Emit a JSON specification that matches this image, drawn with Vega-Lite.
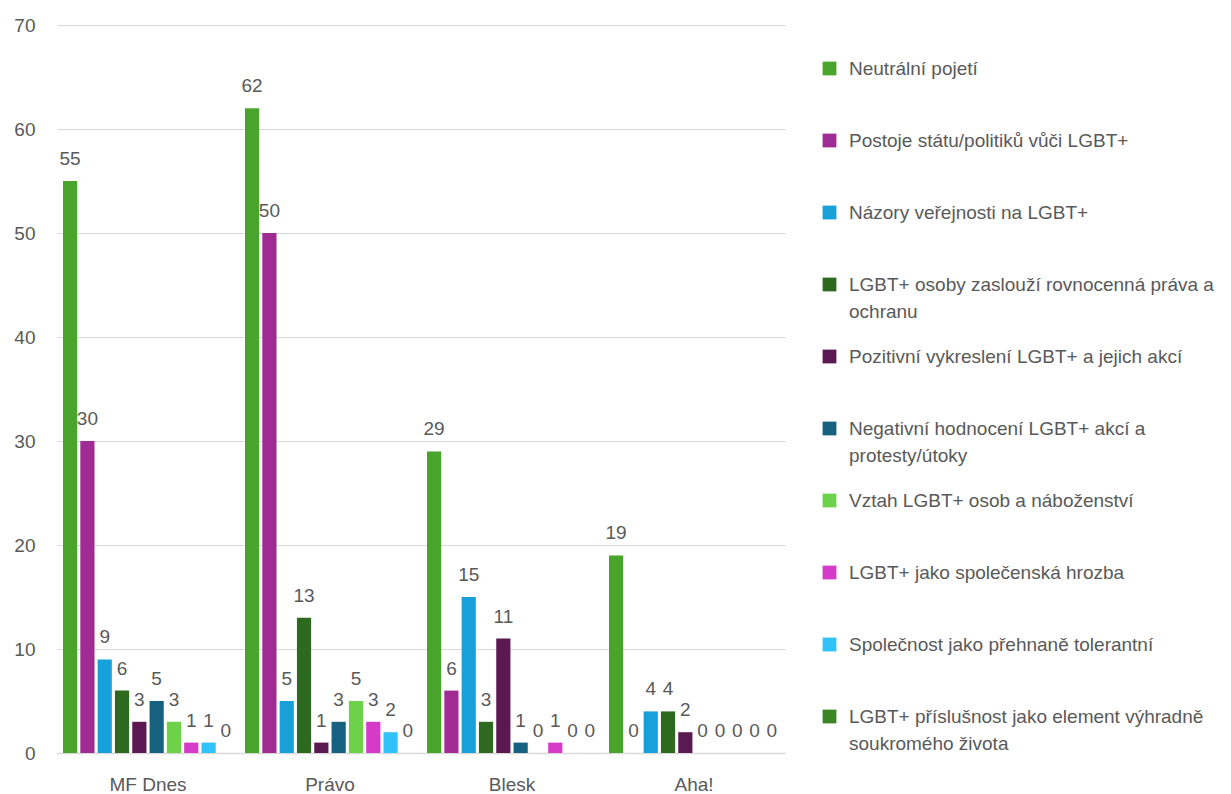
{
  "$schema": "https://vega.github.io/schema/vega-lite/v6.json",
  "width": 728,
  "height": 728,
  "autosize": {"type": "none"},
  "padding": {"left": 57, "top": 25, "right": 446, "bottom": 41},
  "background": "white",
  "config": {
    "view": {"stroke": null},
    "font": "Liberation Sans",
    "axis": {"labelColor": "#595959", "labelFontSize": 19, "titleColor": "#595959"},
    "legend": {"labelColor": "#595959"}
  },
  "data": {
    "values": [
      {"paper": "MF Dnes", "series": "Neutrální pojetí", "value": 55},
      {"paper": "MF Dnes", "series": "Postoje státu/politiků vůči LGBT+", "value": 30},
      {"paper": "MF Dnes", "series": "Názory veřejnosti na LGBT+", "value": 9},
      {"paper": "MF Dnes", "series": "LGBT+ osoby zaslouží rovnocenná práva a ochranu", "value": 6},
      {"paper": "MF Dnes", "series": "Pozitivní vykreslení LGBT+ a jejich akcí", "value": 3},
      {"paper": "MF Dnes", "series": "Negativní hodnocení LGBT+ akcí a protesty/útoky", "value": 5},
      {"paper": "MF Dnes", "series": "Vztah LGBT+ osob a náboženství", "value": 3},
      {"paper": "MF Dnes", "series": "LGBT+ jako společenská hrozba", "value": 1},
      {"paper": "MF Dnes", "series": "Společnost jako přehnaně tolerantní", "value": 1},
      {"paper": "MF Dnes", "series": "LGBT+ příslušnost jako element výhradně soukromého života", "value": 0},
      {"paper": "Právo", "series": "Neutrální pojetí", "value": 62},
      {"paper": "Právo", "series": "Postoje státu/politiků vůči LGBT+", "value": 50},
      {"paper": "Právo", "series": "Názory veřejnosti na LGBT+", "value": 5},
      {"paper": "Právo", "series": "LGBT+ osoby zaslouží rovnocenná práva a ochranu", "value": 13},
      {"paper": "Právo", "series": "Pozitivní vykreslení LGBT+ a jejich akcí", "value": 1},
      {"paper": "Právo", "series": "Negativní hodnocení LGBT+ akcí a protesty/útoky", "value": 3},
      {"paper": "Právo", "series": "Vztah LGBT+ osob a náboženství", "value": 5},
      {"paper": "Právo", "series": "LGBT+ jako společenská hrozba", "value": 3},
      {"paper": "Právo", "series": "Společnost jako přehnaně tolerantní", "value": 2},
      {"paper": "Právo", "series": "LGBT+ příslušnost jako element výhradně soukromého života", "value": 0},
      {"paper": "Blesk", "series": "Neutrální pojetí", "value": 29},
      {"paper": "Blesk", "series": "Postoje státu/politiků vůči LGBT+", "value": 6},
      {"paper": "Blesk", "series": "Názory veřejnosti na LGBT+", "value": 15},
      {"paper": "Blesk", "series": "LGBT+ osoby zaslouží rovnocenná práva a ochranu", "value": 3},
      {"paper": "Blesk", "series": "Pozitivní vykreslení LGBT+ a jejich akcí", "value": 11},
      {"paper": "Blesk", "series": "Negativní hodnocení LGBT+ akcí a protesty/útoky", "value": 1},
      {"paper": "Blesk", "series": "Vztah LGBT+ osob a náboženství", "value": 0},
      {"paper": "Blesk", "series": "LGBT+ jako společenská hrozba", "value": 1},
      {"paper": "Blesk", "series": "Společnost jako přehnaně tolerantní", "value": 0},
      {"paper": "Blesk", "series": "LGBT+ příslušnost jako element výhradně soukromého života", "value": 0},
      {"paper": "Aha!", "series": "Neutrální pojetí", "value": 19},
      {"paper": "Aha!", "series": "Postoje státu/politiků vůči LGBT+", "value": 0},
      {"paper": "Aha!", "series": "Názory veřejnosti na LGBT+", "value": 4},
      {"paper": "Aha!", "series": "LGBT+ osoby zaslouží rovnocenná práva a ochranu", "value": 4},
      {"paper": "Aha!", "series": "Pozitivní vykreslení LGBT+ a jejich akcí", "value": 2},
      {"paper": "Aha!", "series": "Negativní hodnocení LGBT+ akcí a protesty/útoky", "value": 0},
      {"paper": "Aha!", "series": "Vztah LGBT+ osob a náboženství", "value": 0},
      {"paper": "Aha!", "series": "LGBT+ jako společenská hrozba", "value": 0},
      {"paper": "Aha!", "series": "Společnost jako přehnaně tolerantní", "value": 0},
      {"paper": "Aha!", "series": "LGBT+ příslušnost jako element výhradně soukromého života", "value": 0}
    ]
  },
  "encoding": {
    "x": {
      "field": "paper", "type": "nominal", "sort": null,
      "scale": {"paddingInner": 0.066, "paddingOuter": 0.033},
      "axis": {"title": null, "labelAngle": 0, "ticks": false, "domainColor": "#d9d9d9", "domainWidth": 1.5, "labelPadding": 22, "grid": false}
    },
    "xOffset": {
      "field": "series", "type": "nominal",
      "scale": {
        "domain": ["Neutrální pojetí", "Postoje státu/politiků vůči LGBT+", "Názory veřejnosti na LGBT+", "LGBT+ osoby zaslouží rovnocenná práva a ochranu", "Pozitivní vykreslení LGBT+ a jejich akcí", "Negativní hodnocení LGBT+ akcí a protesty/útoky", "Vztah LGBT+ osob a náboženství", "LGBT+ jako společenská hrozba", "Společnost jako přehnaně tolerantní", "LGBT+ příslušnost jako element výhradně soukromého života"],
        "paddingInner": 0.18, "paddingOuter": 0
      }
    },
    "y": {
      "field": "value", "type": "quantitative",
      "scale": {"domain": [0, 70], "nice": false},
      "axis": {"title": null, "values": [0, 10, 20, 30, 40, 50, 60, 70], "domain": false, "ticks": false, "gridColor": "#d9d9d9", "gridWidth": 1, "labelPadding": 22}
    }
  },
  "layer": [
    {
      "mark": {"type": "bar"},
      "encoding": {
        "color": {
          "field": "series", "type": "nominal",
          "scale": {
            "domain": ["Neutrální pojetí", "Postoje státu/politiků vůči LGBT+", "Názory veřejnosti na LGBT+", "LGBT+ osoby zaslouží rovnocenná práva a ochranu", "Pozitivní vykreslení LGBT+ a jejich akcí", "Negativní hodnocení LGBT+ akcí a protesty/útoky", "Vztah LGBT+ osob a náboženství", "LGBT+ jako společenská hrozba", "Společnost jako přehnaně tolerantní", "LGBT+ příslušnost jako element výhradně soukromého života"],
            "range": ["#48A42A", "#A02B93", "#17A0DA", "#2D6A1F", "#5B1951", "#16617F", "#6DD14A", "#D53BC6", "#30C2F8", "#3B8527"]
          },
          "legend": {
            "title": null,
            "orient": "none",
            "legendX": 763,
            "legendY": 34,
            "symbolType": "square",
            "symbolSize": 190,
            "symbolStrokeWidth": 0,
            "labelFontSize": 19,
            "labelLimit": 420,
            "labelOffset": 10,
            "labelBaseline": "middle",
            "rowPadding": 25,
            "encode": {"labels": {"update": {"lineHeight": {"value": 27}}}},
            "labelExpr": "datum.label == 'LGBT+ osoby zaslouží rovnocenná práva a ochranu' ? ['LGBT+ osoby zaslouží rovnocenná práva a', 'ochranu'] : datum.label == 'Negativní hodnocení LGBT+ akcí a protesty/útoky' ? ['Negativní hodnocení LGBT+ akcí a', 'protesty/útoky'] : datum.label == 'LGBT+ příslušnost jako element výhradně soukromého života' ? ['LGBT+ příslušnost jako element výhradně', 'soukromého života'] : [datum.label, '']"
          }
        }
      }
    },
    {
      "mark": {"type": "text", "fontSize": 19, "color": "#595959", "baseline": "alphabetic", "dy": -16},
      "encoding": {
        "text": {"field": "value", "type": "quantitative"}
      }
    }
  ]
}
